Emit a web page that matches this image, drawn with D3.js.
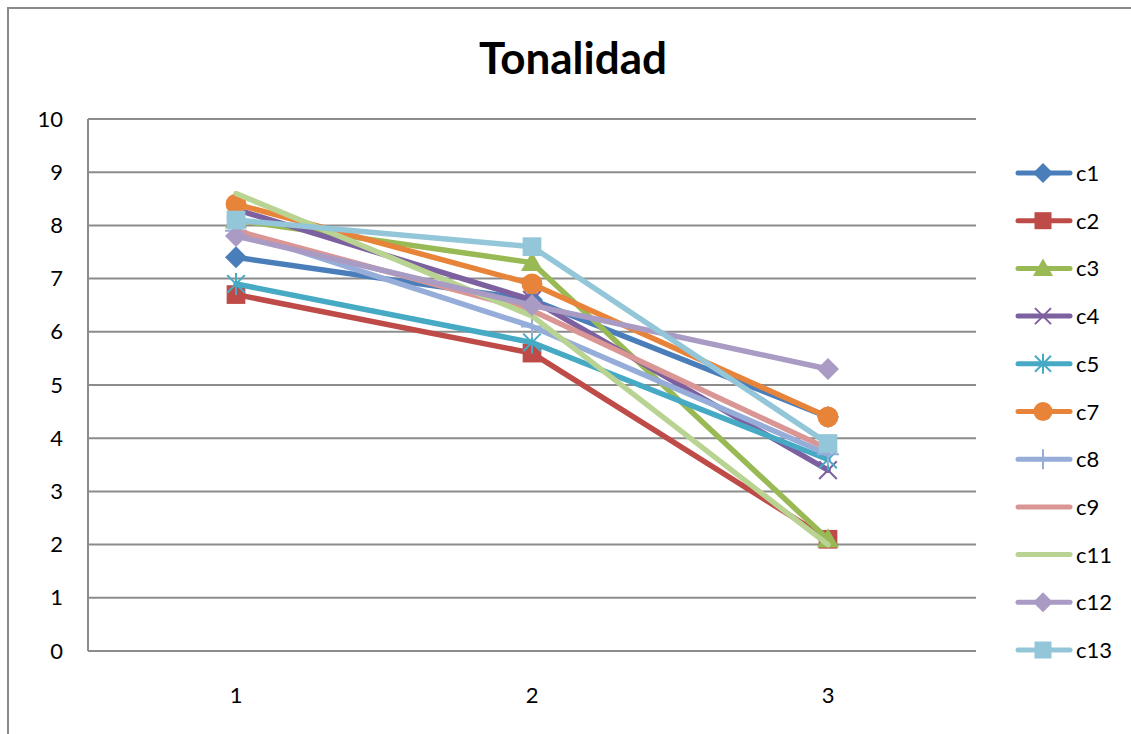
<!DOCTYPE html>
<html>
<head>
<meta charset="utf-8">
<script src="https://cdn.jsdelivr.net/npm/d3@7/dist/d3.min.js"></script>
<style>
  html, body { margin: 0; padding: 0; background: #ffffff; }
  svg { display: block; }
  text { font-family: Lato, "Open Sans", "Liberation Sans", sans-serif; fill: #000; }
</style>
</head>
<body>
<svg id="chart" width="1131" height="734"></svg>
<script>
// Categories on the x axis
const categories = ["1", "2", "3"];
const yTicks = [0, 1, 2, 3, 4, 5, 6, 7, 8, 9, 10];

// Series names, values, colours and marker shapes
const seriesNames = ["c1", "c2", "c3", "c4", "c5", "c7", "c8", "c9", "c11", "c12", "c13"];
const c1 = [7.4, 6.6, 4.4];
const c2 = [6.7, 5.6, 2.1];
const c3 = [8.1, 7.3, 2.1];
const c4 = [8.3, 6.6, 3.4];
const c5 = [6.9, 5.8, 3.6];
const c7 = [8.4, 6.9, 4.4];
const c8 = [7.9, 6.1, 3.7];
const c9 = [7.9, 6.4, 3.8];
const c11 = [8.6, 6.3, 2.0];
const c12 = [7.8, 6.5, 5.3];
const c13 = [8.1, 7.6, 3.9];
const seriesValues = [c1, c2, c3, c4, c5, c7, c8, c9, c11, c12, c13];
const seriesColors = ["#4A7EBB", "#BE4B48", "#98B954", "#7D60A0", "#46AAC5", "#E8843A",
                      "#95ADD8", "#D99694", "#B9D392", "#A99BC4", "#93C6D8"];
const seriesMarkers = ["diamond", "square", "triangle", "cross", "star", "circle",
                       "plus", "none", "none", "diamond", "square"];

const series = seriesNames.map((name, i) => ({
  name, values: seriesValues[i], color: seriesColors[i], marker: seriesMarkers[i]
}));

const svg = d3.select("#chart");
const W = 1131, H = 734;

// Chart frame
svg.append("path")
  .attr("d", `M8,${H + 2} L8,8 L${W + 2},8`)
  .attr("fill", "none").attr("stroke", "#8a8a8a").attr("stroke-width", 2);

// Title
svg.append("text")
  .attr("x", 573).attr("y", 74)
  .attr("text-anchor", "middle")
  .attr("font-size", 44).attr("font-weight", "bold")
  .text("Tonalidad");

const plot = { left: 88, right: 976, top: 119, bottom: 651 };

const x = d3.scaleBand().domain(categories).range([plot.left, plot.right]).padding(0);
const y = d3.scaleLinear().domain([0, 10]).range([plot.bottom, plot.top]);

// Horizontal gridlines
svg.append("g")
  .selectAll("line")
  .data(yTicks)
  .join("line")
  .attr("x1", plot.left).attr("x2", plot.right)
  .attr("y1", d => y(d)).attr("y2", d => y(d))
  .attr("stroke", "#8c8c8c").attr("stroke-width", 2);

// Vertical axis line
svg.append("line")
  .attr("x1", plot.left).attr("x2", plot.left)
  .attr("y1", plot.top).attr("y2", plot.bottom)
  .attr("stroke", "#8c8c8c").attr("stroke-width", 2);

// Y axis labels
const yAxis = d3.axisLeft(y).tickValues(yTicks).tickSize(0).tickPadding(25).tickFormat(d3.format("d"));
const yg = svg.append("g").attr("transform", `translate(${plot.left},0)`).call(yAxis);
yg.select(".domain").remove();
yg.selectAll("text").attr("font-size", 22).attr("fill", "#000")
  .style("font-family", "Lato, 'Open Sans', sans-serif");

// X axis labels
const xAxis = d3.axisBottom(x).tickSize(0).tickPadding(36);
const xg = svg.append("g").attr("transform", `translate(0,${plot.bottom})`).call(xAxis);
xg.select(".domain").remove();
xg.selectAll("text").attr("font-size", 22).attr("fill", "#000")
  .style("font-family", "Lato, 'Open Sans', sans-serif");

const cx = d => x(d) + x.bandwidth() / 2;

// Marker drawing
function drawMarker(g, type, color, size) {
  const s = size / 2;
  switch (type) {
    case "diamond":
      g.append("path").attr("d", `M0,${-s} L${s},0 L0,${s} L${-s},0 Z`).attr("fill", color);
      break;
    case "square":
      g.append("rect").attr("x", -s * 0.85).attr("y", -s * 0.85)
        .attr("width", s * 1.7).attr("height", s * 1.7).attr("fill", color);
      break;
    case "triangle":
      g.append("path").attr("d", `M0,${-s} L${s},${s * 0.75} L${-s},${s * 0.75} Z`).attr("fill", color);
      break;
    case "circle":
      g.append("circle").attr("r", s * 0.95).attr("fill", color);
      break;
    case "cross":
      g.append("path").attr("d", `M${-s * 0.8},${-s * 0.8} L${s * 0.8},${s * 0.8} M${s * 0.8},${-s * 0.8} L${-s * 0.8},${s * 0.8}`)
        .attr("stroke", color).attr("stroke-width", 2).attr("fill", "none");
      break;
    case "star":
      g.append("path").attr("d", `M${-s * 0.8},${-s * 0.8} L${s * 0.8},${s * 0.8} M${s * 0.8},${-s * 0.8} L${-s * 0.8},${s * 0.8} M0,${-s} L0,${s}`)
        .attr("stroke", color).attr("stroke-width", 2).attr("fill", "none");
      break;
    case "plus":
      g.append("path").attr("d", `M0,${-s} L0,${s} M${-s},0 L${s},0`)
        .attr("stroke", color).attr("stroke-width", 2).attr("fill", "none");
      break;
    default:
      break;
  }
}

const line = d3.line().x((d, i) => cx(categories[i])).y(d => y(d));

// Series lines and markers
series.forEach(s => {
  const g = svg.append("g");
  g.append("path")
    .attr("d", line(s.values))
    .attr("fill", "none").attr("stroke", s.color)
    .attr("stroke-width", 5.5).attr("stroke-linejoin", "round").attr("stroke-linecap", "round");
  s.values.forEach((v, i) => {
    const m = g.append("g").attr("transform", `translate(${cx(categories[i])},${y(v)})`);
    drawMarker(m, s.marker, s.color, 22);
  });
});

// Legend
const legend = svg.append("g");
series.forEach((s, i) => {
  const ly = 173 + i * 47.7;
  const g = legend.append("g").attr("transform", `translate(0,${ly})`);
  g.append("line").attr("x1", 1018).attr("x2", 1070).attr("y1", 0).attr("y2", 0)
    .attr("stroke", s.color).attr("stroke-width", 5).attr("stroke-linecap", "round");
  const m = g.append("g").attr("transform", "translate(1043,0)");
  drawMarker(m, s.marker, s.color, 20);
  g.append("text").attr("x", 1076).attr("y", 8).attr("font-size", 22).text(s.name);
});
</script>
</body>
</html>
